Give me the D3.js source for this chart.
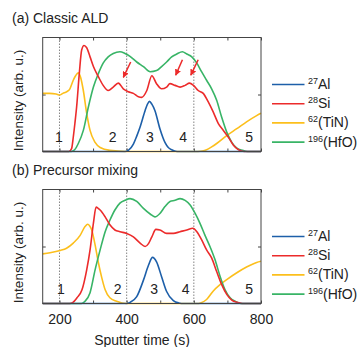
<!DOCTYPE html>
<html>
<head>
<meta charset="utf-8">
<style>
    body { margin: 0; background: #fff; }
    svg { font-family: "Liberation Sans", Arial, sans-serif; }
    .frame { fill: none; stroke: #444; stroke-width: 1; }
    .tick line { stroke: #444; }
    .guide { stroke: #666; stroke-width: 0.8; stroke-dasharray: 1.5,1.5; }
</style>
</head>
<body>
<script src="https://d3js.org/d3.v7.min.js"></script>
<script>
// sputter time (s) vs intensity
var aAl = [[150,0],[395,0],[405,0.02],[420,0.13],[430,0.27],[440,0.43],[455,0.72],[462,0.83],[468,0.88],[475,0.83],[484,0.72],[499,0.40],[514,0.16],[524,0.07],[534,0.03],[550,0],[800,0]];
var aSi = [[150,0],[228,0],[236,0.05],[241,0.25],[246,0.5],[251,0.78],[259,1.37],[266,1.78],[273,1.86],[281,1.82],[291,1.66],[301,1.49],[316,1.31],[330,1.16],[345,1.07],[360,1.13],[375,1.20],[390,1.10],[405,1.05],[420,1.02],[435,0.96],[445,0.95],[460,1.07],[475,1.33],[489,1.19],[504,1.10],[519,1.13],[529,1.19],[544,1.16],[559,1.13],[574,1.16],[587,1.20],[599,1.16],[613,1.07],[628,1.02],[643,0.87],[658,0.69],[673,0.49],[688,0.37],[703,0.25],[718,0.11],[733,0.03],[750,0],[800,0]];
var aTiN = [[150,1.02],[170,1.02],[190,1.01],[200,0.99],[210,1.02],[222,1.05],[231,1.10],[241,1.25],[248,1.33],[256,1.38],[263,1.30],[271,1.07],[281,0.67],[291,0.37],[306,0.16],[321,0.07],[350,0.02],[400,0],[600,0],[625,0.01],[638,0.03],[653,0.08],[668,0.14],[698,0.28],[728,0.40],[757,0.52],[787,0.63],[800,0.67]];
var aHfO = [[150,0],[235,0],[245,0.03],[256,0.14],[271,0.37],[286,0.78],[301,1.13],[316,1.37],[330,1.55],[345,1.66],[360,1.72],[380,1.75],[395,1.72],[410,1.67],[430,1.57],[450,1.49],[470,1.40],[489,1.42],[504,1.49],[519,1.57],[534,1.66],[549,1.71],[566,1.75],[579,1.71],[594,1.66],[609,1.55],[623,1.40],[638,1.25],[653,1.10],[668,0.90],[683,0.60],[698,0.34],[713,0.16],[728,0.06],[745,0.02],[760,0],[800,0]];

var bAl = [[150,0],[400,0],[410,0.02],[430,0.12],[450,0.41],[465,0.67],[477,0.81],[489,0.73],[504,0.47],[519,0.21],[539,0.05],[555,0.01],[570,0],[800,0]];
var bSi = [[150,0],[230,0],[240,0.02],[252,0.10],[267,0.24],[281,0.59],[291,0.94],[301,1.41],[309,1.69],[315,1.67],[321,1.64],[336,1.52],[350,1.38],[365,1.29],[380,1.26],[400,1.23],[420,1.17],[440,1.06],[455,1.00],[465,1.05],[475,1.17],[487,1.30],[499,1.29],[519,1.23],[539,1.23],[559,1.26],[579,1.29],[597,1.32],[609,1.26],[623,1.12],[638,0.94],[653,0.80],[668,0.56],[683,0.33],[698,0.16],[713,0.06],[728,0.02],[745,0],[800,0]];
var bTiN = [[150,0.87],[172,0.89],[202,0.93],[221,0.97],[241,1.06],[261,1.19],[276,1.35],[284,1.39],[290,1.36],[296,1.29],[306,1.03],[316,0.71],[326,0.45],[336,0.24],[350,0.10],[370,0.04],[400,0],[610,0],[620,0.01],[638,0.07],[658,0.22],[678,0.33],[698,0.42],[728,0.54],[757,0.64],[787,0.72],[800,0.74]];
var bHfO = [[150,0],[265,0],[276,0.04],[291,0.19],[306,0.59],[321,0.94],[336,1.26],[350,1.46],[365,1.64],[380,1.76],[395,1.81],[410,1.84],[430,1.79],[450,1.67],[470,1.57],[484,1.52],[499,1.58],[514,1.70],[529,1.79],[544,1.81],[559,1.84],[574,1.81],[589,1.73],[604,1.58],[618,1.41],[633,1.20],[648,1.00],[663,0.77],[678,0.48],[693,0.24],[708,0.10],[723,0.04],[740,0],[800,0]];

var seriesNames = ["Al", "Si", "TiN", "HfO"];
var legendSup = ["27", "28", "62", "196"];
var legendMain = ["Al", "Si", "(TiN)", "(HfO)"];
var colors = {Al: "#1d5fa9", Si: "#ec2b2b", TiN: "#fcbf1c", HfO: "#38b466"};

var xTicks = [200, 300, 400, 500, 600, 700, 800];
var xLabels = [200, 400, 600, 800];
var guideTimes = [200, 400, 600];

var regionLabels = ["1", "2", "3", "4", "5"];
var aRegionTimes = [198, 358, 469, 568, 765];
var bRegionTimes = [204, 373, 482, 576, 765];

// red arrows in (a): [tail t, tail v, head t, head v]
var aArrows = [[412, 1.57, 390, 1.30], [566, 1.61, 546, 1.34], [613, 1.61, 591, 1.34]];

var panels = [
    {title: "(a) Classic ALD", top: 37.5, data: {Al: aAl, Si: aSi, TiN: aTiN, HfO: aHfO}, regions: aRegionTimes, arrows: aArrows, labels: false},
    {title: "(b) Precursor mixing", top: 189.5, data: {Al: bAl, Si: bSi, TiN: bTiN, HfO: bHfO}, regions: bRegionTimes, arrows: [], labels: true}
];

var W = 359, H = 347;
var left = 42.7, right = 261, ph = 114;

var svg = d3.select("body").append("svg")
    .attr("width", W).attr("height", H);

var x = d3.scaleLinear().domain([150, 800]).range([left, right]);

svg.append("defs").append("marker")
    .attr("id", "head")
    .attr("viewBox", "0 0 10 10")
    .attr("refX", 9).attr("refY", 5)
    .attr("markerWidth", 4.2).attr("markerHeight", 4.2)
    .attr("orient", "auto")
    .append("path").attr("d", "M0,0L10,5L0,10z").attr("fill", colors.Si);

panels.forEach(function(p) {
    var y = d3.scaleLinear().domain([0, 2]).range([p.top + ph, p.top]);
    var g = svg.append("g");

    g.append("text")
        .attr("x", 12).attr("y", p.top - 14.5)
        .attr("font-size", 14).attr("fill", "#222")
        .text(p.title);

    // dotted guides
    g.selectAll(".guide").data(guideTimes).enter().append("line")
        .attr("class", "guide")
        .attr("x1", d => x(d)).attr("x2", d => x(d))
        .attr("y1", p.top).attr("y2", p.top + ph);

    // axes with inward ticks
    var bottom = g.append("g").attr("transform", "translate(0," + (p.top + ph) + ")")
        .call(d3.axisBottom(x).tickValues(xTicks).tickSizeInner(-3).tickSizeOuter(0)
            .tickFormat(d => (p.labels && xLabels.indexOf(d) >= 0) ? d : ""));
    bottom.select(".domain").remove();
    bottom.selectAll("text").attr("font-size", 14).attr("fill", "#222").attr("dy", "1.25em")
        .attr("font-family", "Liberation Sans, Arial, sans-serif");
    var topAx = g.append("g").attr("transform", "translate(0," + p.top + ")")
        .call(d3.axisTop(x).tickValues(xTicks).tickSizeInner(-3).tickSizeOuter(0).tickFormat(""));
    topAx.select(".domain").remove();
    var leftAx = g.append("g").attr("transform", "translate(" + left + ",0)")
        .call(d3.axisLeft(y).tickValues([1]).tickSizeInner(-3).tickSizeOuter(0).tickFormat(""));
    leftAx.select(".domain").remove();
    var rightAx = g.append("g").attr("transform", "translate(" + right + ",0)")
        .call(d3.axisRight(y).tickValues([1]).tickSizeInner(-3).tickSizeOuter(0).tickFormat(""));
    rightAx.select(".domain").remove();

    // region numbers
    g.selectAll(".region").data(p.regions).enter().append("text")
        .attr("x", d => x(d)).attr("y", p.top + ph - 10)
        .attr("text-anchor", "middle").attr("font-size", 14).attr("fill", "#222")
        .text((d, i) => regionLabels[i]);

    var line = d3.line().x(d => x(d[0])).y(d => y(d[1])).curve(d3.curveMonotoneX);
    ["TiN", "HfO", "Si", "Al"].forEach(function(k) {
        g.append("path")
            .attr("d", line(p.data[k]))
            .attr("fill", "none")
            .attr("stroke", colors[k])
            .attr("stroke-width", 1.6);
    });

    g.selectAll(".arrow").data(p.arrows).enter().append("line")
        .attr("x1", d => x(d[0])).attr("y1", d => y(d[1]))
        .attr("x2", d => x(d[2])).attr("y2", d => y(d[3]))
        .attr("stroke", colors.Si).attr("stroke-width", 1.5)
        .attr("marker-end", "url(#head)");

    g.append("rect").attr("class", "frame")
        .attr("x", left).attr("y", p.top)
        .attr("width", right - left).attr("height", ph);

    // y label
    g.append("text")
        .attr("transform", "translate(23," + (p.top + ph / 2 + 6) + ") rotate(-90)")
        .attr("text-anchor", "middle").attr("font-size", 13.5).attr("fill", "#222")
        .text("Intensity (arb. u.)");

    // legend
    var lg = g.selectAll(".leg").data(seriesNames).enter().append("g")
        .attr("transform", (d, i) => "translate(0," + (p.top + 47 + i * 19.2) + ")");
    lg.append("line")
        .attr("x1", 272).attr("x2", 304.5)
        .attr("stroke", d => colors[d]).attr("stroke-width", 1.6);
    var lt = lg.append("text").attr("x", 308).attr("y", 4.5).attr("font-size", 14).attr("fill", "#222");
    lt.append("tspan").attr("font-size", 9).attr("dy", -5).text((d, i) => legendSup[i]);
    lt.append("tspan").attr("dy", 5).text((d, i) => legendMain[i]);
});

svg.append("text")
    .attr("x", 142).attr("y", 345)
    .attr("text-anchor", "middle").attr("font-size", 14).attr("fill", "#222")
    .text("Sputter time (s)");
</script>
</body>
</html>
